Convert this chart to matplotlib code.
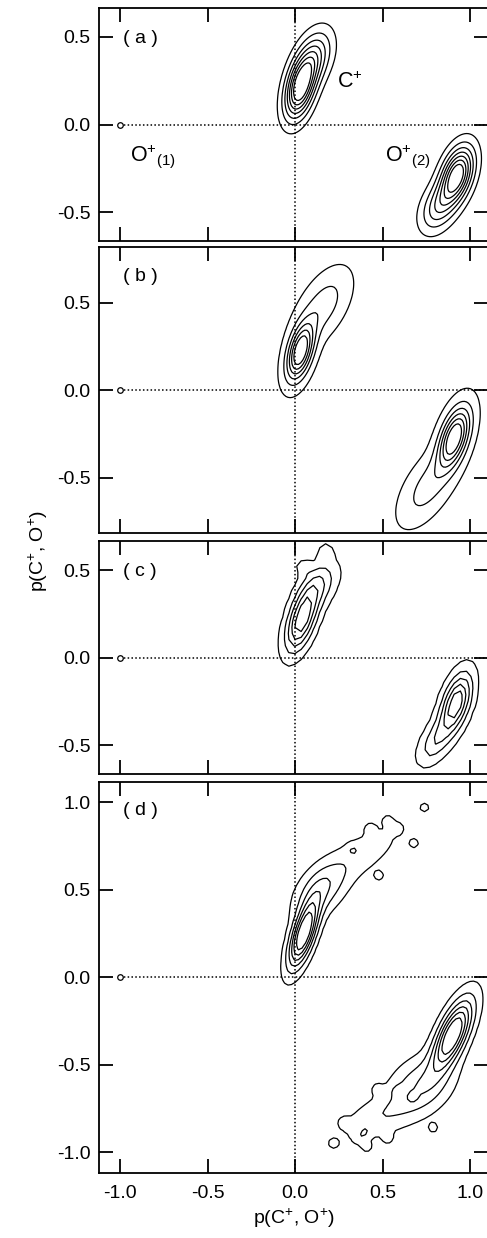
import numpy as np
import matplotlib.pyplot as plt

plt.rcParams['font.family'] = 'Liberation Sans'
plt.rcParams['mathtext.fontset'] = 'custom'
plt.rcParams['mathtext.rm'] = 'Liberation Sans'
plt.rcParams['mathtext.it'] = 'Liberation Sans'
plt.rcParams['axes.unicode_minus'] = False

# blob components per panel: centre x, centre y, sigma along axis, sigma across, angle (deg), weight
a_cx = [0.03, 0.11, 0.925, 0.82]
a_cy = [0.21, 0.38, -0.29, -0.47]
a_s1 = [0.12, 0.11, 0.11, 0.10]
a_s2 = [0.052, 0.06, 0.055, 0.06]
a_ang = [76, 70, 72, 65]
a_w = [1.0, 0.45, 1.0, 0.40]

b_cx = [0.03, 0.16, 0.91, 0.76]
b_cy = [0.22, 0.48, -0.27, -0.55]
b_s1 = [0.11, 0.14, 0.12, 0.15]
b_s2 = [0.045, 0.07, 0.05, 0.07]
b_ang = [75, 60, 72, 58]
b_w = [1.0, 0.30, 1.0, 0.28]

c_cx = [0.04, 0.14, 0.92, 0.80, 0.175, 0.05]
c_cy = [0.22, 0.42, -0.26, -0.48, 0.61, 0.52]
c_s1 = [0.13, 0.10, 0.12, 0.10, 0.025, 0.025]
c_s2 = [0.05, 0.06, 0.05, 0.05, 0.025, 0.025]
c_ang = [72, 60, 72, 60, 0, 0]
c_w = [1.0, 0.40, 1.0, 0.40, 0.25, 0.25]

d_cx = [0.05, 0.15, 0.38, 0.90, 0.72, 0.48,
        0.53, 0.43, 0.585, 0.68, 0.74, 0.48, 0.33,
        0.41, 0.366, 0.40, 0.28, 0.22, 0.47, 0.585, 0.67, 0.53, 0.79]
d_cy = [0.25, 0.50, 0.70, -0.33, -0.62, -0.80,
        0.895, 0.85, 0.85, 0.765, 0.97, 0.58, 0.73,
        -0.97, -0.92, -0.886, -0.83, -0.95, -0.64, -0.65, -0.69, -0.92, -0.86]
d_s1 = [0.13, 0.12, 0.18, 0.14, 0.13, 0.15] + [0.022] * 17
d_s2 = [0.04, 0.07, 0.07, 0.05, 0.09, 0.07] + [0.022] * 17
d_ang = [72, 50, 35, 66, 40, 25] + [0] * 17
d_w = [1.0, 0.30, 0.12, 1.0, 0.30, 0.15] + [0.1] * 17

a_lev = [0.08, 0.2, 0.33, 0.46, 0.59, 0.72, 0.85]
b_lev = [0.05, 0.2, 0.35, 0.5, 0.65, 0.8]
c_lev = [0.1, 0.28, 0.46, 0.64, 0.82]
d_lev = [0.06, 0.18, 0.32, 0.46, 0.6, 0.75]

ylims = [0.665, 0.817, 0.667, 1.117]
panel_names = ['( a )', '( b )', '( c )', '( d )']
xticks = [-1.0, -0.5, 0.0, 0.5, 1.0]


def field(X, Y, cx, cy, s1, s2, ang, w):
    Z = np.zeros_like(X)
    for i in range(len(cx)):
        t = np.deg2rad(ang[i])
        u = (X - cx[i]) * np.cos(t) + (Y - cy[i]) * np.sin(t)
        v = -(X - cx[i]) * np.sin(t) + (Y - cy[i]) * np.cos(t)
        Z += w[i] * np.exp(-0.5 * (u**2 / s1[i]**2 + v**2 / s2[i]**2))
    return Z


W, H = 487, 1238
fig = plt.figure(figsize=(W / 100, H / 100), dpi=100)

# axes boxes in pixels (top, bottom)
boxes = [(8, 241), (247.3, 533.3), (541, 774.3), (781.7, 1172.7)]
left_px = 99
xmin, xmax = -1.12, 1.105
width_px = (xmax - xmin) * 175

panels = [
    (a_cx, a_cy, a_s1, a_s2, a_ang, a_w, a_lev, 0.01),
    (b_cx, b_cy, b_s1, b_s2, b_ang, b_w, b_lev, 0.012),
    (c_cx, c_cy, c_s1, c_s2, c_ang, c_w, c_lev, 0.035),
    (d_cx, d_cy, d_s1, d_s2, d_ang, d_w, d_lev, 0.02),
]
label_y = [0.49, 0.65, 0.49, 0.95]

axes = []
for k, (top, bot) in enumerate(boxes):
    ax = fig.add_axes([left_px / W, 1 - bot / H, width_px / W, (bot - top) / H])
    cx, cy, s1, s2, ang, w, lev, step = panels[k]
    yl = ylims[k]
    gx = np.arange(xmin, xmax + step, step)
    gy = np.arange(-yl, yl + step, step)
    X, Y = np.meshgrid(gx, gy)
    Z = field(X, Y, cx, cy, s1, s2, ang, w)
    ax.contour(X, Y, Z, levels=lev, colors='k', linewidths=0.9)

    ax.axhline(0, xmin=(-1 - xmin) / (xmax - xmin), color='k', ls=(0, (1, 1.5)), lw=1.1)
    ax.axvline(0, color='k', ls=(0, (1, 1.5)), lw=1.1)
    ax.plot([-1.0], [0.0], 'o', mfc='white', mec='k', ms=4, mew=0.9)

    ax.set_xlim(xmin, xmax)
    ax.set_ylim(-yl, yl)
    ax.set_xticks(xticks)
    if k == 3:
        ax.set_yticks([-1.0, -0.5, 0.0, 0.5, 1.0])
    else:
        ax.set_yticks([-0.5, 0.0, 0.5])
    ax.yaxis.set_major_formatter(plt.FormatStrFormatter('%.1f'))
    ax.xaxis.set_major_formatter(plt.FormatStrFormatter('%.1f'))
    ax.tick_params(direction='in', length=10, width=1.3, top=True, right=True,
                   labelsize=14)
    ax.tick_params(axis='y', pad=6)
    ax.tick_params(axis='x', pad=9)
    if k < 3:
        ax.tick_params(labelbottom=False)
    for s in ax.spines.values():
        s.set_linewidth(1.3)
    ax.text(-0.985, label_y[k], panel_names[k], fontsize=14, va='center', ha='left')
    axes.append(ax)

axes[0].text(0.24, 0.24, 'C$^{+}$', fontsize=15.5, va='center', ha='left')
axes[0].text(-0.945, -0.18, 'O$^{+}{}_{(1)}$', fontsize=15.5, va='center', ha='left')
axes[0].text(0.515, -0.18, 'O$^{+}{}_{(2)}$', fontsize=15.5, va='center', ha='left')

axes[3].set_xlabel('p(C$^{+}$, O$^{+}$)', fontsize=14, labelpad=3)
fig.text(38 / W, 1 - 551 / H, 'p(C$^{+}$, O$^{+}$)', rotation=90, fontsize=14,
         va='center', ha='center')

fig.savefig('out.png', dpi=100)
